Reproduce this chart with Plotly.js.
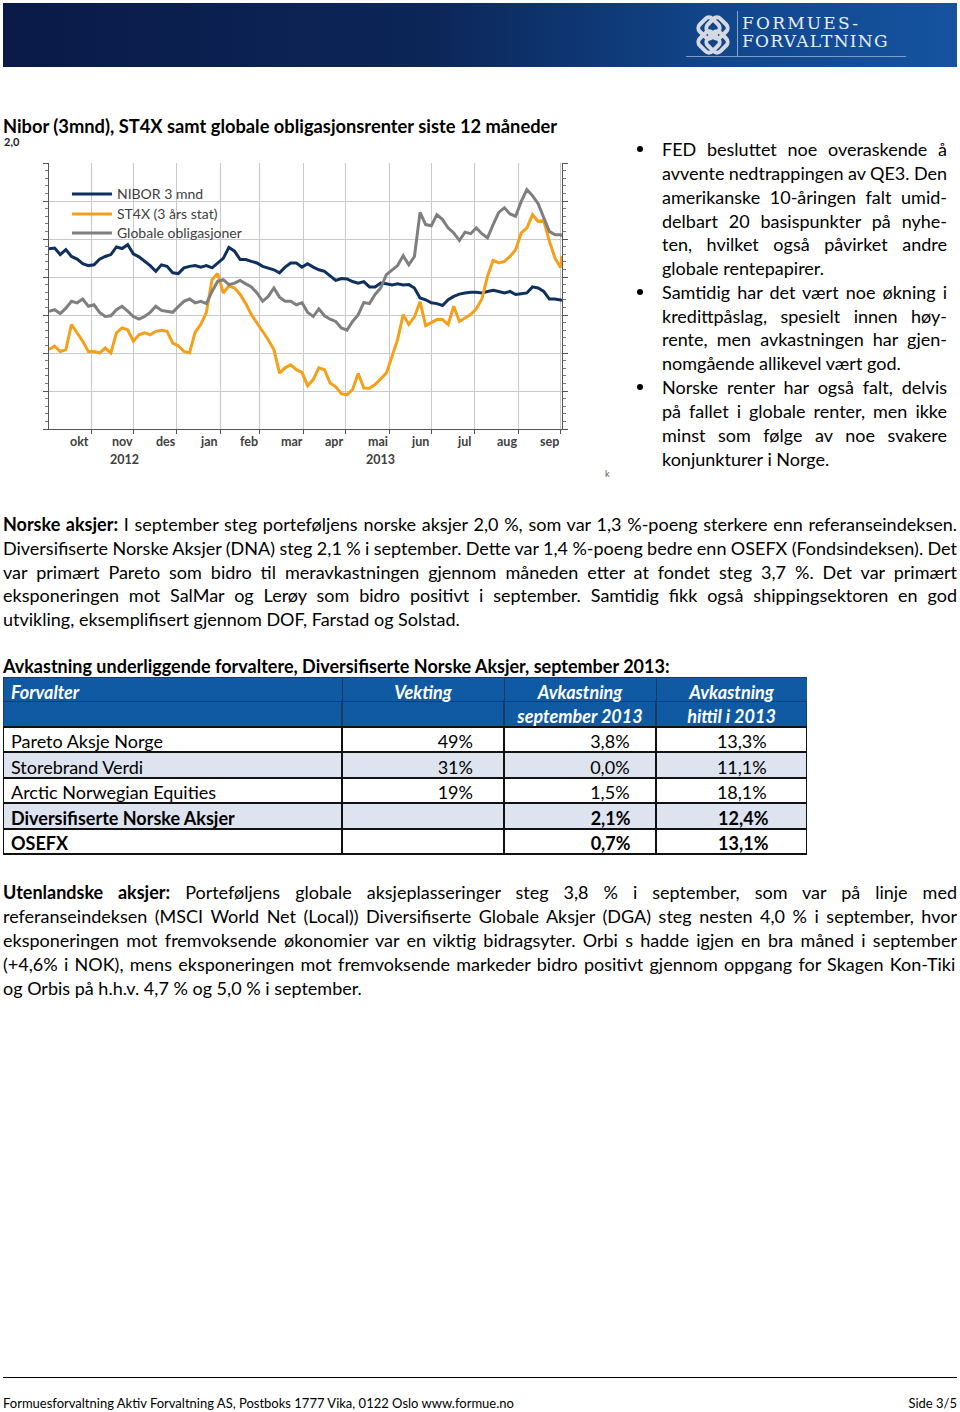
<!DOCTYPE html>
<html><head><meta charset="utf-8">
<script src="https://cdn.plot.ly/plotly-3.0.1.min.js"></script>
<style>
body{margin:0;background:#fff;width:960px;height:1412px;position:relative;overflow:hidden;font-family:Lato,'Liberation Sans',sans-serif;color:#000;}
.abs{position:absolute;white-space:nowrap;}
.ln{position:absolute;white-space:nowrap;font-size:18px;line-height:24px;height:24px;}
.b{font-weight:bold;}
.bul{position:absolute;width:6px;height:6px;border-radius:3px;background:#000;}
#banner{position:absolute;left:3px;top:3px;width:954px;height:64px;background:linear-gradient(to right,#0a1a48 0%,#0c2658 45%,#11468c 75%,#1553a0 100%);}
</style>
</head><body>
<div id="banner">
  <svg style="position:absolute;left:688px;top:12px" width="44" height="42" viewBox="0 0 44 42">
    <g fill="none" stroke="#d4d9e2" stroke-width="4">
      <rect x="9" y="4" width="18" height="18" rx="5" transform="rotate(45 18 13)"/>
      <rect x="17" y="4" width="18" height="18" rx="5" transform="rotate(45 26 13)"/>
      <rect x="9" y="18" width="18" height="18" rx="5" transform="rotate(45 18 27)"/>
      <rect x="17" y="18" width="18" height="18" rx="5" transform="rotate(45 26 27)"/>
    </g>
  </svg>
  <div style="position:absolute;left:734px;top:8px;width:1px;height:46px;background:#8aa4c8"></div>
  <div style="position:absolute;left:683px;top:53px;width:220px;height:1px;background:#7f9cc4"></div>
  <div class="abs" style="left:739px;top:11px;font-family:'DejaVu Serif','Liberation Serif',serif;font-size:17px;letter-spacing:2.2px;color:#e9eef6;line-height:18px">FORMUES-</div>
  <div class="abs" style="left:739px;top:29px;font-family:'DejaVu Serif','Liberation Serif',serif;font-size:17px;letter-spacing:1.3px;color:#e9eef6;line-height:18px">FORVALTNING</div>
</div>

<div class="abs b" style="left:3px;top:114px;font-size:18.3px;line-height:24px">Nibor (3mnd), ST4X samt globale obligasjonsrenter siste 12 måneder</div>
<div class="abs b" style="left:4px;top:136px;font-size:11px;line-height:12px;color:#222">2,0</div>
<div id="chart" style="position:absolute;left:0;top:135px;width:620px;height:345px"></div>
<div class="abs" style="left:605px;top:468px;font-size:9px;color:#555">k</div>

<div class="bul" style="left:637px;top:146px"></div>
<div class="bul" style="left:637px;top:289px"></div>
<div class="bul" style="left:637px;top:384px"></div>
<div class="ln j" data-w="285" style="left:662px;top:137px"><span>FED besluttet noe overaskende å</span></div>
<div class="ln j" data-w="285" style="left:662px;top:161px"><span>avvente nedtrappingen av QE3. Den</span></div>
<div class="ln j" data-w="285" style="left:662px;top:185px"><span>amerikanske 10-åringen falt umid-</span></div>
<div class="ln j" data-w="285" style="left:662px;top:209px"><span>delbart 20 basispunkter på nyhe-</span></div>
<div class="ln j" data-w="285" style="left:662px;top:232px"><span>ten, hvilket også påvirket andre</span></div>
<div class="ln" style="left:662px;top:256px"><span>globale rentepapirer.</span></div>
<div class="ln j" data-w="285" style="left:662px;top:280px"><span>Samtidig har det vært noe økning i</span></div>
<div class="ln j" data-w="285" style="left:662px;top:304px"><span>kredittpåslag, spesielt innen høy-</span></div>
<div class="ln j" data-w="285" style="left:662px;top:327px"><span>rente, men avkastningen har gjen-</span></div>
<div class="ln" style="left:662px;top:351px"><span>nomgående allikevel vært god.</span></div>
<div class="ln j" data-w="285" style="left:662px;top:375px"><span>Norske renter har også falt, delvis</span></div>
<div class="ln j" data-w="285" style="left:662px;top:399px"><span>på fallet i globale renter, men ikke</span></div>
<div class="ln j" data-w="285" style="left:662px;top:423px"><span>minst som følge av noe svakere</span></div>
<div class="ln" style="left:662px;top:447px"><span>konjunkturer i Norge.</span></div>

<div class="ln j" data-w="954" style="left:3px;top:512px"><span><b>Norske aksjer:</b> I september steg porteføljens norske aksjer 2,0 %, som var 1,3 %-poeng sterkere enn referanseindeksen.</span></div>
<div class="ln j" data-w="954" style="left:3px;top:536px"><span>Diversifiserte Norske Aksjer (DNA) steg 2,1 % i september. Dette var 1,4 %-poeng bedre enn OSEFX (Fondsindeksen). Det</span></div>
<div class="ln j" data-w="954" style="left:3px;top:560px"><span>var primært Pareto som bidro til meravkastningen gjennom måneden etter at fondet steg 3,7 %. Det var primært</span></div>
<div class="ln j" data-w="954" style="left:3px;top:583px"><span>eksponeringen mot SalMar og Lerøy som bidro positivt i september. Samtidig fikk også shippingsektoren en god</span></div>
<div class="ln" style="left:3px;top:607px"><span>utvikling, eksemplifisert gjennom DOF, Farstad og Solstad.</span></div>

<div class="ln b" style="left:3px;top:654px"><span>Avkastning underliggende forvaltere, Diversifiserte Norske Aksjer, september 2013:</span></div>
<div id="table" style="position:absolute;left:3px;top:676px;width:804px;height:190px"></div>

<div class="ln j" data-w="954" style="left:3px;top:880px"><span><b>Utenlandske aksjer:</b> Porteføljens globale aksjeplasseringer steg 3,8 % i september, som var på linje med</span></div>
<div class="ln j" data-w="954" style="left:3px;top:904px"><span>referanseindeksen (MSCI World Net (Local)) Diversifiserte Globale Aksjer (DGA) steg nesten 4,0 % i september, hvor</span></div>
<div class="ln j" data-w="954" style="left:3px;top:928px"><span>eksponeringen mot fremvoksende økonomier var en viktig bidragsyter. Orbi s hadde igjen en bra måned i september</span></div>
<div class="ln j" data-w="954" style="left:3px;top:952px"><span>(+4,6% i NOK),  mens eksponeringen mot fremvoksende markeder bidro positivt gjennom oppgang for Skagen Kon-Tiki</span></div>
<div class="ln" style="left:3px;top:976px"><span>og Orbis på h.h.v. 4,7 % og 5,0 % i september.</span></div>

<div style="position:absolute;left:3px;top:1377px;width:954px;height:1px;background:#000"></div>
<div class="abs" style="left:3px;top:1395px;font-size:13px;line-height:16px">Formuesforvaltning Aktiv Forvaltning AS, Postboks 1777 Vika, 0122 Oslo www.formue.no</div>
<div class="abs" style="right:3px;top:1395px;font-size:13px;line-height:16px">Side 3/5</div>

<script>
// ---------- chart data ----------
const dates = ['2012-10-01','2012-10-05','2012-10-09','2012-10-13','2012-10-17','2012-10-21','2012-10-25','2012-10-29',
'2012-11-02','2012-11-06','2012-11-10','2012-11-14','2012-11-18','2012-11-22','2012-11-26','2012-11-30',
'2012-12-04','2012-12-08','2012-12-12','2012-12-16','2012-12-20','2012-12-24','2012-12-28',
'2013-01-01','2013-01-05','2013-01-09','2013-01-13','2013-01-17','2013-01-21','2013-01-25','2013-01-29',
'2013-02-02','2013-02-06','2013-02-10','2013-02-14','2013-02-18','2013-02-22','2013-02-26',
'2013-03-02','2013-03-06','2013-03-10','2013-03-14','2013-03-18','2013-03-22','2013-03-26','2013-03-30',
'2013-04-03','2013-04-07','2013-04-11','2013-04-15','2013-04-19','2013-04-23','2013-04-27',
'2013-05-01','2013-05-05','2013-05-09','2013-05-13','2013-05-17','2013-05-21','2013-05-25','2013-05-29',
'2013-06-02','2013-06-06','2013-06-10','2013-06-14','2013-06-18','2013-06-22','2013-06-26','2013-06-30',
'2013-07-04','2013-07-08','2013-07-12','2013-07-16','2013-07-20','2013-07-24','2013-07-28',
'2013-08-01','2013-08-05','2013-08-09','2013-08-13','2013-08-17','2013-08-21','2013-08-25','2013-08-29',
'2013-09-02','2013-09-06','2013-09-10','2013-09-14','2013-09-18','2013-09-22','2013-09-26','2013-09-30','2013-10-01'];

const nibor = [1.774,1.776,1.759,1.772,1.754,1.747,1.735,1.730,
1.732,1.747,1.754,1.759,1.779,1.775,1.785,1.761,
1.753,1.741,1.730,1.715,1.732,1.728,1.711,
1.709,1.724,1.728,1.730,1.726,1.730,1.724,1.737,
1.749,1.778,1.768,1.746,1.746,1.741,1.737,
1.728,1.724,1.719,1.711,1.726,1.737,1.737,1.726,
1.735,1.726,1.719,1.715,1.702,1.691,1.696,
1.695,1.688,1.684,1.688,1.674,1.674,1.684,1.682,
1.679,1.682,1.679,1.680,1.671,1.645,1.640,1.632,
1.630,1.625,1.640,1.649,1.655,1.658,1.660,
1.660,1.658,1.662,1.665,1.662,1.658,1.662,1.654,
1.656,1.658,1.674,1.671,1.662,1.642,1.642,1.640,1.639];

const st4x = [1.509,1.518,1.504,1.509,1.575,1.553,1.531,1.504,
1.504,1.500,1.513,1.500,1.553,1.566,1.561,1.531,
1.548,1.553,1.548,1.557,1.560,1.557,1.526,
1.519,1.504,1.500,1.555,1.575,1.607,1.693,1.709,
1.658,1.677,1.671,1.654,1.630,1.601,1.579,
1.557,1.535,1.509,1.447,1.461,1.469,1.456,1.449,
1.414,1.430,1.461,1.456,1.421,1.411,1.393,
1.390,1.404,1.446,1.408,1.407,1.417,1.432,1.447,
1.490,1.535,1.601,1.575,1.595,1.635,1.572,1.581,
1.588,1.588,1.575,1.623,1.583,1.592,1.601,
1.616,1.642,1.702,1.744,1.737,1.741,1.754,1.772,
1.816,1.829,1.864,1.846,1.849,1.794,1.750,1.725,1.755];

const globale = [1.610,1.614,1.604,1.618,1.636,1.632,1.642,1.623,
1.627,1.607,1.596,1.598,1.614,1.623,1.610,1.596,
1.589,1.596,1.607,1.623,1.612,1.610,1.607,
1.622,1.636,1.642,1.632,1.636,1.630,1.662,1.689,
1.693,1.680,1.684,1.691,1.682,1.674,1.658,
1.636,1.649,1.671,1.647,1.636,1.636,1.627,1.632,
1.607,1.596,1.616,1.598,1.589,1.583,1.566,
1.560,1.583,1.601,1.633,1.630,1.654,1.671,1.706,
1.718,1.730,1.756,1.732,1.754,1.870,1.838,1.835,
1.864,1.851,1.829,1.816,1.796,1.818,1.814,
1.829,1.814,1.803,1.838,1.870,1.882,1.866,1.860,
1.899,1.930,1.914,1.893,1.858,1.820,1.811,1.811,1.807];

const seriesNames = ['NIBOR 3 mnd','ST4X (3 års stat)','Globale obligasjoner'];
const monthEnds = ['2012-10-31','2012-11-30','2012-12-31','2013-01-31','2013-02-28','2013-03-31',
'2013-04-30','2013-05-31','2013-06-30','2013-07-31','2013-08-31','2013-09-30'];
const monthLabels = ['okt','nov','des','jan','feb','mar','apr','mai','jun','jul','aug','sep'];
const yearLabels = [{label:'2012', month:'nov'},{label:'2013', month:'mai'}];

// ---------- table data ----------
const forvalter = ['Pareto Aksje Norge','Storebrand Verdi','Arctic Norwegian Equities','Diversifiserte Norske Aksjer','OSEFX'];
const vekting = ['49%','31%','19%','',''];
const avkSept = ['3,8%','0,0%','1,5%','2,1%','0,7%'];
const avkYtd = ['13,3%','11,1%','18,1%','12,4%','13,1%'];
const boldRows = [3,4];
const headerLine1 = ['Forvalter','Vekting','Avkastning','Avkastning'];
const headerLine2 = ['','','september 2013','hittil i 2013'];

// ---------- chart ----------
const colors = ['#0f2f5f','#f5a01a','#7f7f7f'];
const legendIds = ['legend','legend2','legend3'];
const legendY = [0.9425, 0.8673, 0.7959];
const ys = [nibor, st4x, globale];
const traces = ys.map((y,i)=>({x:dates, y:y, type:'scatter', mode:'lines', name:seriesNames[i],
  legend:legendIds[i], line:{color:colors[i], width:3}}));

function shiftDate(s, days){
  const p = s.split('-').map(Number);
  const d = new Date(Date.UTC(p[0], p[1]-1, p[2]));
  d.setUTCDate(d.getUTCDate()+days);
  const pad = n=>String(n).padStart(2,'0');
  return d.getUTCFullYear()+'-'+pad(d.getUTCMonth()+1)+'-'+pad(d.getUTCDate());
}
const annFont = {family:'Lato, sans-serif', size:12.5, color:'#404040'};
const anns = monthLabels.map((m,i)=>({x:shiftDate(monthEnds[i],-8), y:0, xref:'x', yref:'paper',
  text:'<b>'+m+'</b>', showarrow:false, yanchor:'middle', yshift:-12, font:annFont}));
yearLabels.forEach(o=>{
  const i = monthLabels.indexOf(o.month);
  anns.push({x:shiftDate(monthEnds[i],-6), y:0, xref:'x', yref:'paper', text:'<b>'+o.label+'</b>',
    showarrow:false, yanchor:'middle', yshift:-30, font:annFont});
});

const layout = {
  width:620, height:345,
  margin:{l:49, r:58, t:28, b:51},
  paper_bgcolor:'rgba(0,0,0,0)', plot_bgcolor:'#fff',
  showlegend:true,
  xaxis:{type:'date', range:['2012-10-01','2013-10-01'], tickmode:'array', tickvals:monthEnds,
    showticklabels:false, showgrid:true, gridcolor:'#c9c9c9', gridwidth:1,
    ticks:'outside', ticklen:4, tickcolor:'#555', showline:true, linecolor:'#555', linewidth:1,
    zeroline:false, fixedrange:true},
  yaxis:{range:[1.3,2.0], tick0:1.3, dtick:0.1, showticklabels:false, showgrid:true,
    gridcolor:'#c9c9c9', gridwidth:1, ticks:'outside', ticklen:5, tickcolor:'#555',
    showline:true, linecolor:'#555', linewidth:1, mirror:'ticks', zeroline:false,
    minor:{dtick:0.02, ticks:'outside', ticklen:3, tickcolor:'#777', showgrid:false}},
  annotations:anns
};
legendIds.forEach((id,i)=>{
  layout[id] = {x:0.035, y:legendY[i], xanchor:'left', yanchor:'top', bgcolor:'rgba(0,0,0,0)', itemwidth:40,
    font:{family:'Lato, sans-serif', size:14, color:'#404040'}};
});
Plotly.newPlot('chart', traces, layout, {displayModeBar:false, staticPlot:true});

// ---------- table ----------
const HDR = '#0f5aa3', ALT = '#dde3ef', SEP = '#1f3a60';
const nb = n=>'\u00a0'.repeat(n);
const pad = (arr, n)=>arr.map(v=> v ? v + nb(n) : v);
const bodyCols = [forvalter, pad(vekting,5), pad(avkSept,4), pad(avkYtd,7)];
// second header line lives in the first body row, styled like the header
const cellVals = bodyCols.map((col,c)=>[headerLine2[c]].concat(col));
const fillCol = [HDR].concat(forvalter.map((_,r)=> r%2===1 ? ALT : '#ffffff'));
const fontCol = ['#ffffff'].concat(forvalter.map(()=> '#000000'));
const weightCol = ['bold'].concat(forvalter.map((_,r)=> boldRows.includes(r) ? 'bold' : 'normal'));
const styleCol = ['italic'].concat(forvalter.map(()=> 'normal'));
const lineCol = [SEP].concat(forvalter.map(()=> '#111111'));
const alignNum = ['center'].concat(forvalter.map(()=> 'right'));
const rep = a=>[a,a,a,a];
const tbl = [{
  type:'table',
  columnwidth:[339,162,152,151],
  header:{values:headerLine1, align:['left','center','center','center'],
    height:24, fill:{color:HDR}, line:{color:SEP, width:1},
    font:{family:'Lato, sans-serif', size:18, color:'#ffffff', weight:'bold', style:'italic'}},
  cells:{values:cellVals,
    align:[forvalter.concat(['']).map(()=> 'left'), alignNum, alignNum, alignNum],
    height:25.5,
    fill:{color:rep(fillCol)}, line:{color:rep(lineCol), width:2},
    font:{family:'Lato, sans-serif', size:18, color:rep(fontCol), weight:rep(weightCol), style:rep(styleCol)}}
}];
Plotly.newPlot('table', tbl, {width:804, height:190, margin:{l:0,r:0,t:1,b:0}, paper_bgcolor:'rgba(0,0,0,0)'},
  {displayModeBar:false, staticPlot:true});

// ---------- justify text lines ----------
function justify(){
  document.querySelectorAll('.ln.j').forEach(el=>{
    const w = parseFloat(el.dataset.w);
    const span = el.firstElementChild;
    span.style.wordSpacing = '0px';
    const nat = span.getBoundingClientRect().width;
    const sp = (span.textContent.match(/ /g)||[]).length;
    if(sp) span.style.wordSpacing = ((w-nat)/sp)+'px';
  });
}
justify();
if (document.fonts && document.fonts.ready) document.fonts.ready.then(justify);
</script>
</body></html>
